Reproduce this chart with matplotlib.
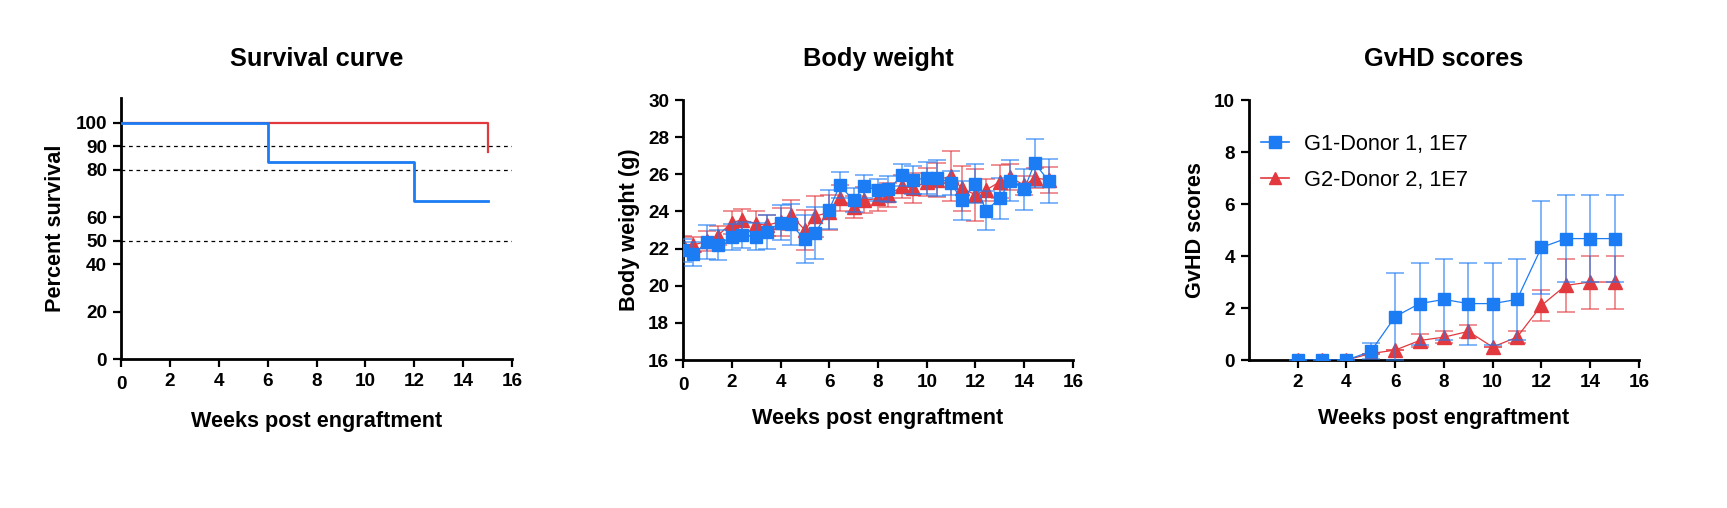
# plot.py
# Survival curve, body weight and GvHD scores after engraftment (three panels)

import numpy as np
import matplotlib
matplotlib.use("Agg")
import matplotlib.pyplot as plt
from matplotlib.lines import Line2D

plt.rcParams["font.family"] = ["Liberation Sans", "DejaVu Sans"]

BLUE = "#1c7cf4"
RED = "#e2393f"
GROUP_LABELS = ["G1-Donor 1, 1E7", "G2-Donor 2, 1E7"]

# survival (Kaplan-Meier steps)
surv_g1_weeks = [0, 6, 12, 15]
surv_g1_pct = [100, 83.33, 66.67, 66.67]
surv_g2_weeks = [0, 15]
surv_g2_pct = [100, 87.5]
surv_ref_lines = [90, 80, 50]
surv_yticks = [0, 20, 40, 50, 60, 80, 90, 100]

# body weight, measured twice a week (day 0 and day 3 of each week)
bw_days = [0, 3, 7, 10, 14, 17, 21, 24, 28, 31, 35, 38, 42, 45, 49, 52,
           56, 59, 63, 66, 70, 73, 77, 80, 84, 87, 91, 94, 98, 101, 105]
g1_bw = [21.9, 21.7, 22.35, 22.2, 22.65, 22.75, 22.65, 22.9, 23.4, 23.3,
         22.5, 22.85, 24.1, 25.4, 24.6, 25.35, 25.15, 25.2, 25.95, 25.7,
         25.8, 25.8, 25.55, 24.6, 25.5, 24.05, 24.7, 25.65, 25.2, 26.6, 25.65]
g1_bw_sd = [0.6, 0.65, 0.9, 0.8, 0.7, 0.7, 0.75, 0.9, 0.95, 1.1, 1.3,
            1.4, 1.05, 0.7, 0.65, 0.6, 0.6, 0.7, 0.6, 0.75, 0.85, 0.95,
            0.65, 1.05, 1.05, 1.05, 1.1, 1.1, 1.1, 1.3, 1.2]
g2_bw = [22.2, 22.2, 22.4, 22.7, 23.4, 23.55, 23.35, 23.25, 23.45, 23.8,
         23.0, 23.75, 23.95, 24.7, 24.25, 24.6, 24.7, 24.9, 25.35, 25.25,
         25.6, 25.7, 25.9, 25.25, 24.9, 25.15, 25.6, 25.85, 25.4, 25.8, 25.7]
g2_bw_sd = [0.5, 0.4, 0.55, 0.5, 0.6, 0.6, 0.65, 0.55, 0.75, 0.8, 1.1,
            1.1, 0.95, 0.7, 0.6, 0.7, 0.7, 0.65, 0.6, 0.8, 0.75, 0.9,
            1.35, 1.2, 1.4, 0.6, 0.9, 0.7, 0.5, 0.55, 0.7]

# GvHD scores, weekly
gvhd_weeks = [2, 3, 4, 5, 6, 7, 8, 9, 10, 11, 12, 13, 14, 15]
g1_gvhd = [0, 0, 0, 0.33, 1.67, 2.17, 2.33, 2.17, 2.17, 2.33, 4.33, 4.67, 4.67, 4.67]
g1_gvhd_sd = [0, 0, 0, 0.31, 1.67, 1.58, 1.55, 1.58, 1.58, 1.55, 1.8, 1.68, 1.68, 1.68]
g2_gvhd = [0, 0, 0, 0.25, 0.38, 0.75, 0.88, 1.1, 0.5, 0.88, 2.1, 2.87, 3.0, 3.0]
g2_gvhd_sd = [0, 0, 0, 0, 0, 0.25, 0.22, 0.25, 0, 0.22, 0.58, 1.02, 1.02, 1.02]

TITLE_SIZE = 18.3
LABEL_SIZE = 15.6
TICK_SIZE = 13.6


def style_axes(ax):
    for side in ["top", "right"]:
        ax.spines[side].set_visible(False)
    for side in ["left", "bottom"]:
        ax.spines[side].set_linewidth(2.0)
    ax.tick_params(axis="both", width=1.6, length=6, labelsize=TICK_SIZE, pad=4)
    for lab in ax.get_xticklabels() + ax.get_yticklabels():
        lab.set_fontweight("bold")


def plot_group(ax, x, y, err, color, marker, ms, z):
    ax.errorbar(x, y, yerr=err, color=color, marker=marker, markersize=ms,
                lw=0.9, elinewidth=1.2, capsize=6.5, capthick=1.2,
                ecolor=matplotlib.colors.to_rgba(color, 0.65), zorder=z)


fig = plt.figure(figsize=(17.27, 5.08), dpi=100)

# --- survival curve ---
ax1 = fig.add_axes([0.0701, 0.2933, 0.2264, 0.5138])
for yl in surv_ref_lines:
    ax1.axhline(yl, color="black", lw=0.9, ls=(0, (3, 3)), zorder=1)
ax1.step(surv_g2_weeks, surv_g2_pct, where="post", color=RED, lw=1.6, zorder=2)
ax1.step(surv_g1_weeks, surv_g1_pct, where="post", color=BLUE, lw=2.0, zorder=3)
ax1.set_xlim(0, 16)
ax1.set_ylim(0, 110.4)
ax1.set_xticks(np.arange(0, 17, 2))
ax1.set_yticks(surv_yticks)
ax1.set_title("Survival curve", fontsize=TITLE_SIZE, fontweight="bold", pad=23)
ax1.set_xlabel("Weeks post engraftment", fontsize=LABEL_SIZE, fontweight="bold")
ax1.set_ylabel("Percent survival", fontsize=LABEL_SIZE, fontweight="bold")
ax1.xaxis.set_label_coords(0.5, -0.2)
ax1.yaxis.set_label_coords(-0.141, 0.5)
style_axes(ax1)
ax1.xaxis.get_major_ticks()[0].set_pad(6.5)

# --- body weight ---
ax2 = fig.add_axes([0.3955, 0.2913, 0.2258, 0.5118])
bw_weeks = np.array(bw_days) / 7.0
plot_group(ax2, bw_weeks, g2_bw, g2_bw_sd, RED, "^", 9.5, 2)
plot_group(ax2, bw_weeks, g1_bw, g1_bw_sd, BLUE, "s", 8.5, 3)
ax2.set_xlim(0, 16)
ax2.set_ylim(16, 30)
ax2.set_xticks(np.arange(0, 17, 2))
ax2.set_yticks(np.arange(16, 31, 2))
ax2.set_title("Body weight", fontsize=TITLE_SIZE, fontweight="bold", pad=24.5)
ax2.set_xlabel("Weeks post engraftment", fontsize=LABEL_SIZE, fontweight="bold")
ax2.set_ylabel("Body weight (g)", fontsize=LABEL_SIZE, fontweight="bold")
ax2.xaxis.set_label_coords(0.5, -0.185)
ax2.yaxis.set_label_coords(-0.11, 0.5)
style_axes(ax2)
ax2.xaxis.get_major_ticks()[0].set_pad(6.5)

# --- GvHD scores ---
ax3 = fig.add_axes([0.7232, 0.2913, 0.2258, 0.5118])
plot_group(ax3, gvhd_weeks, g2_gvhd, g2_gvhd_sd, RED, "^", 9.5, 2)
plot_group(ax3, gvhd_weeks, g1_gvhd, g1_gvhd_sd, BLUE, "s", 8.5, 3)
ax3.set_xlim(0, 16)
ax3.set_ylim(0, 10)
ax3.set_xticks(np.arange(2, 17, 2))
ax3.set_yticks(np.arange(0, 11, 2))
ax3.set_title("GvHD scores", fontsize=TITLE_SIZE, fontweight="bold", pad=24.5)
ax3.set_xlabel("Weeks post engraftment", fontsize=LABEL_SIZE, fontweight="bold")
ax3.set_ylabel("GvHD scores", fontsize=LABEL_SIZE, fontweight="bold")
ax3.xaxis.set_label_coords(0.5, -0.185)
ax3.yaxis.set_label_coords(-0.109, 0.5)
style_axes(ax3)

handles = [
    Line2D([], [], color=BLUE, marker="s", markersize=8, lw=1.2),
    Line2D([], [], color=RED, marker="^", markersize=9, lw=1.2),
]
ax3.legend(handles, GROUP_LABELS, loc="upper left", bbox_to_anchor=(0.03, 0.87),
           frameon=False, fontsize=15.7, handlelength=1.3, handletextpad=0.7,
           labelspacing=0.68, borderpad=0, borderaxespad=0)

fig.savefig("out.png", dpi=100)
